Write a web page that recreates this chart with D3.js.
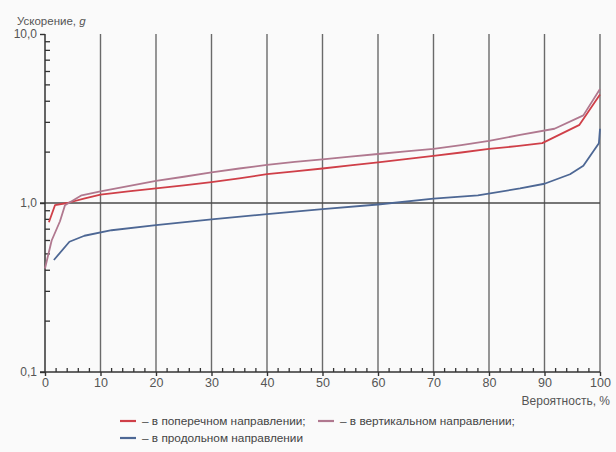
<!DOCTYPE html>
<html>
<head>
<meta charset="utf-8">
<script src="https://cdn.jsdelivr.net/npm/d3@7"></script>
<style>
  html, body { margin: 0; padding: 0; background: #fafafa; }
  svg { display: block; font-family: Arial, "Liberation Sans", sans-serif; }
</style>
</head>
<body>
<svg id="chart" width="616" height="452"></svg>
<script>
// probability, %
const redX = [0.7, 1.8, 4, 7, 10, 15, 20, 25, 30, 35, 40, 45, 50, 55, 60, 65, 70, 75, 80, 85, 89.6, 96.3, 100]
// acceleration, g — в поперечном направлении
const redY = [0.77, 0.97, 1.0, 1.06, 1.12, 1.17, 1.22, 1.27, 1.33, 1.40, 1.48, 1.54, 1.60, 1.67, 1.74, 1.82, 1.90, 1.99, 2.09, 2.17, 2.26, 2.90, 4.38]

const purpleX = [0, 1.2, 2.7, 3.6, 6.6, 10, 15, 20, 25, 30, 35, 40, 45, 50, 55, 60, 65, 70, 75, 80, 85.6, 91.8, 97, 100]
// в вертикальном направлении
const purpleY = [0.41, 0.60, 0.78, 0.97, 1.11, 1.17, 1.26, 1.35, 1.43, 1.52, 1.60, 1.68, 1.75, 1.81, 1.88, 1.95, 2.02, 2.09, 2.20, 2.33, 2.53, 2.75, 3.30, 4.73]

const blueX = [1.6, 4.4, 7.1, 12, 20, 30, 40, 50, 60, 70, 78, 85.6, 90, 94.6, 97, 99.8, 100]
// в продольном направлении
const blueY = [0.46, 0.59, 0.64, 0.69, 0.74, 0.80, 0.86, 0.92, 0.98, 1.06, 1.11, 1.22, 1.30, 1.48, 1.66, 2.26, 2.75]

const xTicks = [0, 10, 20, 30, 40, 50, 60, 70, 80, 90, 100]
const yTicks = [10, 1, 0.1]
const yTickLabels = ['10,0', '1,0', '0,1']

const seriesNames = [
  '– в поперечном направлении;',
  '– в вертикальном направлении;',
  '– в продольном направлении'
]

const margin = {left: 45, right: 16, top: 34, bottom: 80}
const svg = d3.select('#chart')
const W = +svg.attr('width')
const H = +svg.attr('height')

const scaleX = d3.scaleLinear().domain([0, 100]).range([margin.left, W - margin.right])
const scaleY = d3.scaleLog().domain([0.1, 10]).range([H - margin.bottom, margin.top])

const x0 = scaleX(0), x1 = scaleX(100)
const yTop = scaleY(10), yBot = scaleY(0.1)

// vertical grid
svg.append('g')
  .selectAll('line')
  .data(xTicks.filter(d => d > 0))
  .join('line')
    .attr('x1', d => scaleX(d)).attr('x2', d => scaleX(d))
    .attr('y1', yTop).attr('y2', yBot)
    .attr('stroke', '#6a6a6a')
    .attr('stroke-width', 1.4)

// line at 1,0
svg.append('line')
  .attr('x1', x0 - 5).attr('x2', x1)
  .attr('y1', scaleY(1)).attr('y2', scaleY(1))
  .attr('stroke', '#4a4a4a')
  .attr('stroke-width', 1.6)

// y axis
const minorY = []
;[0.1, 1].forEach(dec => { for (let k = 2; k <= 9; k++) minorY.push(dec * k) })

const axisY = d3.axisLeft(scaleY)
  .tickValues(yTicks)
  .tickFormat((d, i) => yTickLabels[i])
  .tickSize(5)
  .tickPadding(3)
svg.append('g')
  .attr('transform', `translate(${x0}, 0)`)
  .call(axisY)
  .call(g => g.select('.domain').attr('d', `M0,${yTop}V${yBot}`).attr('stroke', '#333').attr('stroke-width', 1.5))
  .call(g => g.selectAll('.tick line').attr('stroke', '#333').attr('stroke-width', 1.4))
  .call(g => g.selectAll('.tick text').attr('fill', '#555').attr('font-size', 12).attr('font-family', null))

svg.append('g')
  .selectAll('line')
  .data(minorY)
  .join('line')
    .attr('x1', x0).attr('x2', x0 + 5)
    .attr('y1', d => scaleY(d)).attr('y2', d => scaleY(d))
    .attr('stroke', '#333')
    .attr('stroke-width', 1.3)

// x axis
const minorX = d3.range(2, 100, 2).filter(d => d % 10 !== 0)

const axisX = d3.axisBottom(scaleX)
  .tickValues(xTicks)
  .tickFormat(d3.format('d'))
  .tickSize(4)
  .tickPadding(2)
svg.append('g')
  .attr('transform', `translate(0, ${yBot})`)
  .call(axisX)
  .call(g => g.select('.domain').attr('d', `M${x0 - 5},0H${x1}`).attr('stroke', '#333').attr('stroke-width', 1.5))
  .call(g => g.selectAll('.tick line').attr('stroke', '#333').attr('stroke-width', 1.4))
  .call(g => g.selectAll('.tick text').attr('fill', '#555').attr('font-size', 12.5).attr('font-family', null))

svg.append('g')
  .selectAll('line')
  .data(minorX)
  .join('line')
    .attr('x1', d => scaleX(d)).attr('x2', d => scaleX(d))
    .attr('y1', yBot).attr('y2', yBot - 4)
    .attr('stroke', '#333')
    .attr('stroke-width', 1.3)

// axis titles
const yTitle = svg.append('text')
  .attr('x', 17).attr('y', 25)
  .attr('font-size', 11.5)
  .attr('fill', '#555')
yTitle.append('tspan').text('Ускорение, ')
yTitle.append('tspan').attr('font-style', 'italic').text('g')

svg.append('text')
  .attr('x', 610).attr('y', 405)
  .attr('text-anchor', 'end')
  .attr('font-size', 12)
  .attr('fill', '#555')
  .text('Вероятность, %')

// series
const series = [
  {xs: redX, ys: redY, color: '#cf3f48'},
  {xs: purpleX, ys: purpleY, color: '#b0788f'},
  {xs: blueX, ys: blueY, color: '#4d6794'}
]

const line = d3.line()
  .x(d => scaleX(d[0]))
  .y(d => scaleY(d[1]))

series.forEach(s => {
  svg.append('path')
    .attr('d', line(s.xs.map((x, i) => [x, s.ys[i]])))
    .attr('fill', 'none')
    .attr('stroke', s.color)
    .attr('stroke-width', 1.8)
    .attr('stroke-linejoin', 'round')
})

// legend
const legendPos = [[120, 421], [318, 421], [120, 438]]
const legend = svg.append('g')
series.forEach((s, i) => {
  const [lx, ly] = legendPos[i]
  legend.append('line')
    .attr('x1', lx).attr('x2', lx + 16)
    .attr('y1', ly).attr('y2', ly)
    .attr('stroke', s.color)
    .attr('stroke-width', 2.2)
  legend.append('text')
    .attr('x', lx + 22).attr('y', ly + 4)
    .attr('font-size', 11.8)
    .attr('fill', '#444')
    .text(seriesNames[i])
})
</script>
</body>
</html>
